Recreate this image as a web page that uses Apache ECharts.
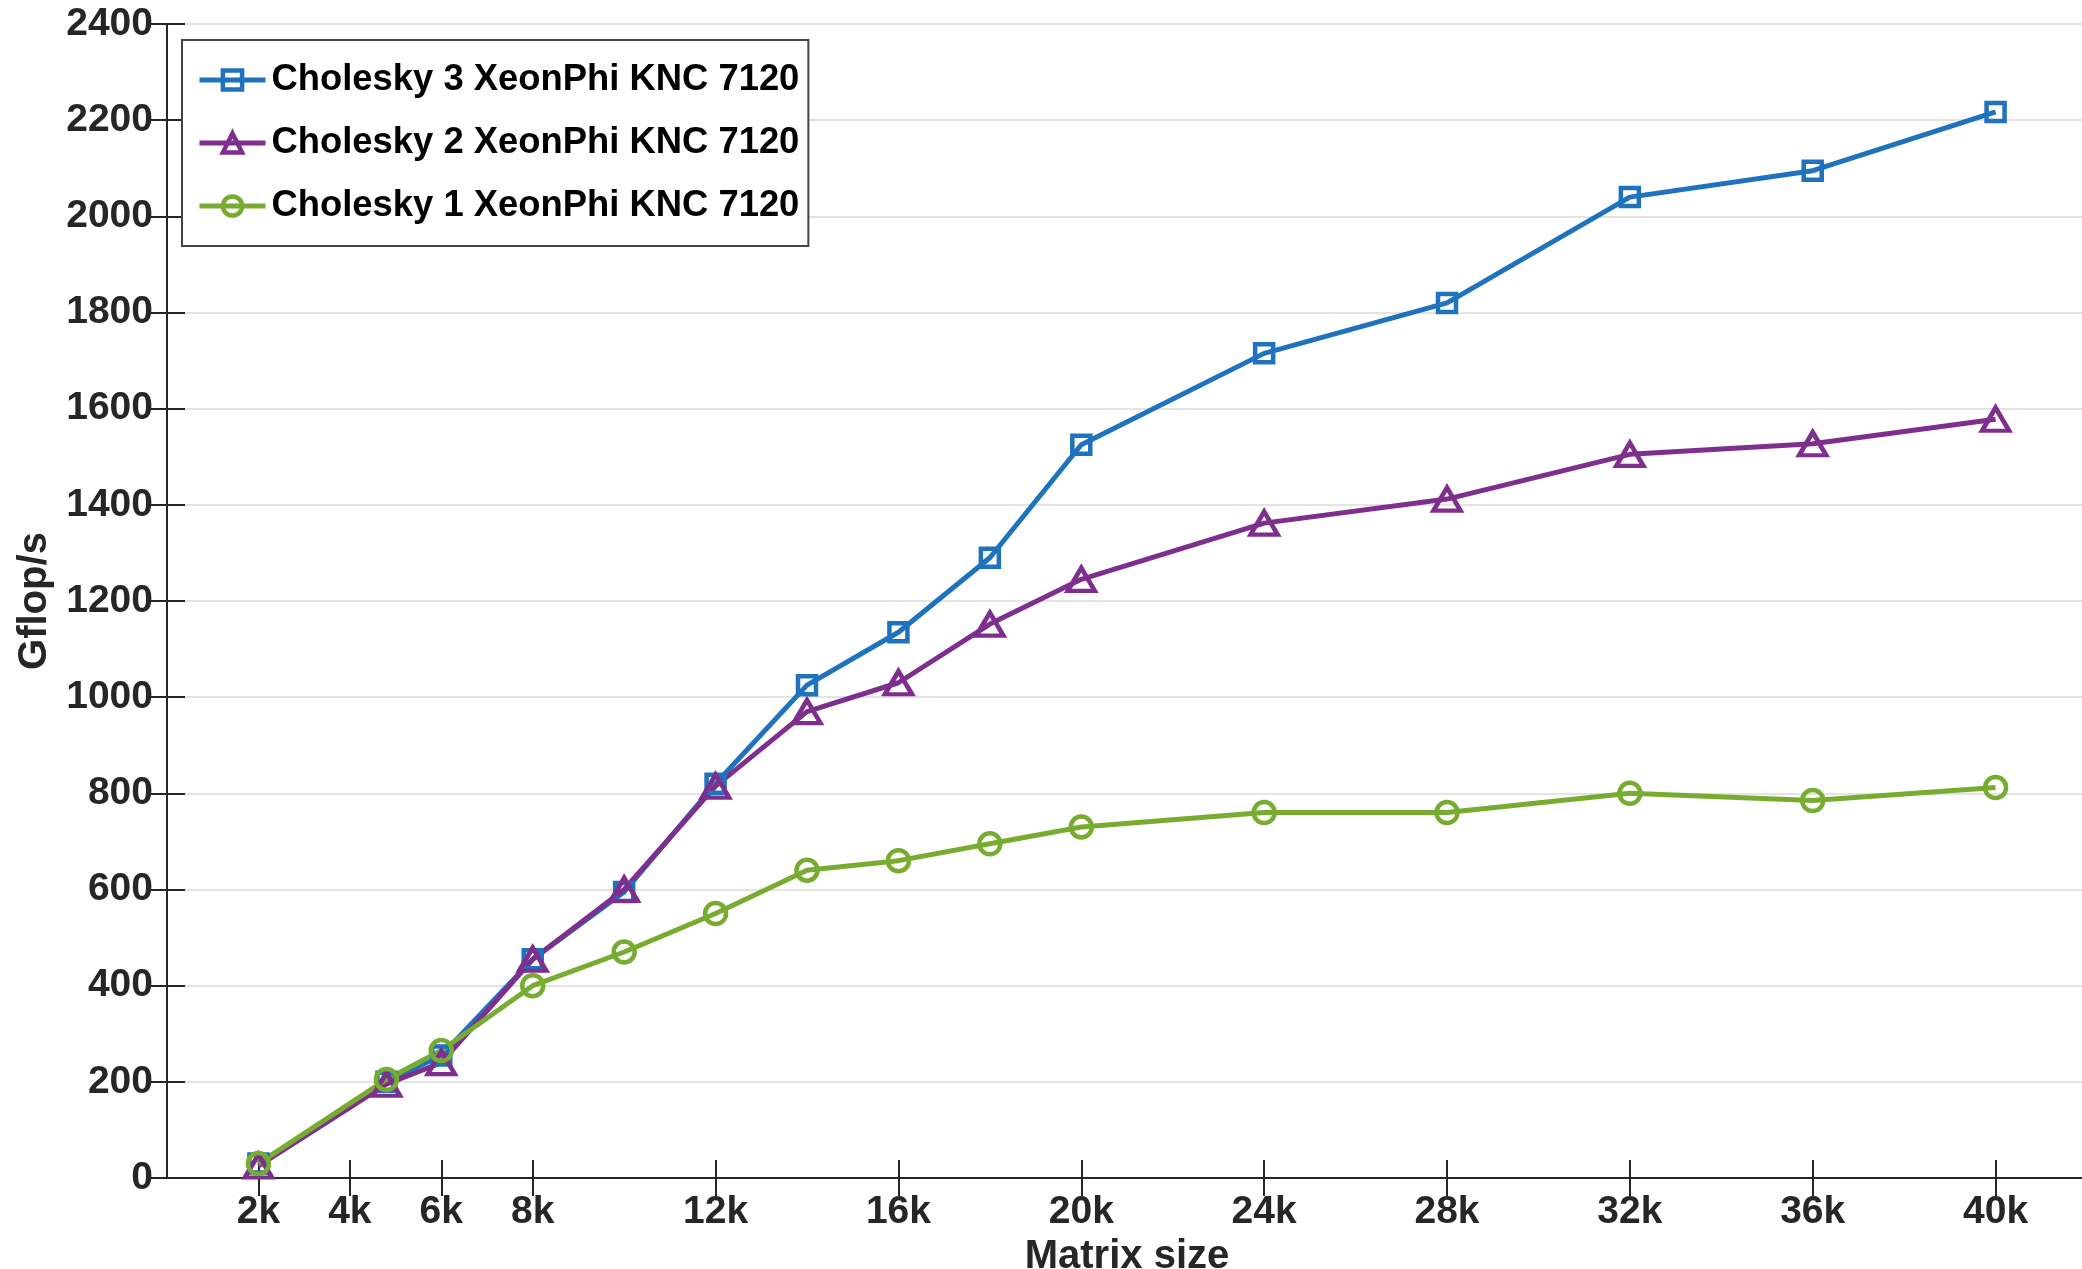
<!DOCTYPE html>
<html>
<head>
<meta charset="utf-8">
<script src="https://cdn.jsdelivr.net/npm/echarts@6/dist/echarts.min.js"></script>
<style>
  html, body { margin: 0; padding: 0; background: #fff; }
  #chart { width: 2082px; height: 1269px; }
</style>
</head>
<body>
<div id="chart"></div>
<script>
var sizes = [2, 4.8, 6, 8, 10, 12, 14, 16, 18, 20, 24, 28, 32, 36, 40];
var chol3 = [30, 200, 255, 455, 595, 820, 1025, 1135, 1290, 1525, 1715, 1820, 2040, 2095, 2217];
var chol2 = [25, 195, 240, 455, 600, 815, 970, 1030, 1152, 1245, 1362, 1412, 1505, 1527, 1578];
var chol1 = [30, 205, 265, 400, 470, 550, 640, 660, 695, 730, 760, 760, 800, 785, 812];
var xTicks = [2, 4, 6, 8, 12, 16, 20, 24, 28, 32, 36, 40];
var names = ['Cholesky 3 XeonPhi KNC 7120', 'Cholesky 2 XeonPhi KNC 7120', 'Cholesky 1 XeonPhi KNC 7120'];

var blue = '#1f72bd';
var purple = '#7e2f8e';
var green = '#77ac30';
var axisColor = '#262626';
var font = '"Liberation Sans", Arial, sans-serif';

function pairs(vals) {
  return sizes.map(function(s, i) { return [s, vals[i]]; });
}

function mkSeries(name, vals, color, symbol, size) {
  return {
    name: name,
    type: 'line',
    data: pairs(vals),
    symbol: symbol,
    symbolSize: size,
    lineStyle: { color: color, width: 5 },
    itemStyle: { color: 'rgba(0,0,0,0)', borderColor: color, borderWidth: 4.5 }
  };
}

var chart = echarts.init(document.getElementById('chart'), null, { renderer: 'canvas' });
chart.setOption({
  animation: false,
  backgroundColor: '#fff',
  textStyle: { fontFamily: font },
  legend: {
    data: names,
    orient: 'vertical',
    left: 182,
    top: 40,
    padding: [20, 9, 20, 15],
    itemWidth: 66,
    itemHeight: 24,
    itemGap: 23,
    backgroundColor: '#fff',
    borderColor: '#444',
    borderWidth: 2,
    lineStyle: { width: 5 },
    itemStyle: { borderWidth: 4.5 },
    textStyle: { color: '#000', fontSize: 36.4, fontWeight: 'bold', fontFamily: font, lineHeight: 40, padding: [0, 0, 0, 1] }
  },
  grid: { left: 167, top: 24, width: 1920, height: 1154, outerBoundsMode: 'none' },
  xAxis: [{
    type: 'value',
    min: 0,
    max: 42,
    name: 'Matrix size',
    nameLocation: 'middle',
    nameGap: 44,
    nameTextStyle: { color: axisColor, fontSize: 40, fontWeight: 'bold', fontFamily: font },
    axisLine: { lineStyle: { color: axisColor, width: 2 } },
    axisTick: { inside: true, length: 18, customValues: xTicks, lineStyle: { color: axisColor, width: 2 } },
    axisLabel: {
      customValues: xTicks, color: axisColor, fontSize: 39, fontWeight: 'bold', fontFamily: font, margin: 15,
      formatter: function(v) { return v + 'k'; }
    },
    splitLine: { show: false }
  }, {
    type: 'value',
    position: 'top',
    min: 0,
    max: 42,
    axisLine: { lineStyle: { color: axisColor, width: 2 } },
    axisTick: { inside: true, length: 18, customValues: xTicks, lineStyle: { color: axisColor, width: 2 } },
    axisLabel: { show: false },
    splitLine: { show: false }
  }],
  yAxis: [{
    type: 'value',
    min: 0,
    max: 2400,
    interval: 200,
    name: 'Gflop/s',
    nameLocation: 'middle',
    nameGap: 93,
    nameTextStyle: { color: axisColor, fontSize: 40, fontWeight: 'bold', fontFamily: font },
    axisLine: { show: true, lineStyle: { color: axisColor, width: 2 } },
    axisTick: { show: true, inside: true, length: 18, lineStyle: { color: axisColor, width: 2 } },
    axisLabel: {
      color: axisColor, fontSize: 39, fontWeight: 'bold', fontFamily: font, margin: 14,
      formatter: function(v) { return String(v); }
    },
    splitLine: { show: true, lineStyle: { color: '#e3e3e3', width: 2 } }
  }, {
    type: 'value',
    position: 'right',
    min: 0,
    max: 2400,
    interval: 200,
    axisLine: { show: true, lineStyle: { color: axisColor, width: 2 } },
    axisTick: { show: true, inside: true, length: 18, lineStyle: { color: axisColor, width: 2 } },
    axisLabel: { show: false },
    splitLine: { show: false }
  }],
  series: [
    mkSeries(names[0], chol3, blue, 'rect', 18),
    mkSeries(names[1], chol2, purple, 'triangle', [27, 23]),
    mkSeries(names[2], chol1, green, 'circle', 21)
  ]
});
</script>
</body>
</html>
